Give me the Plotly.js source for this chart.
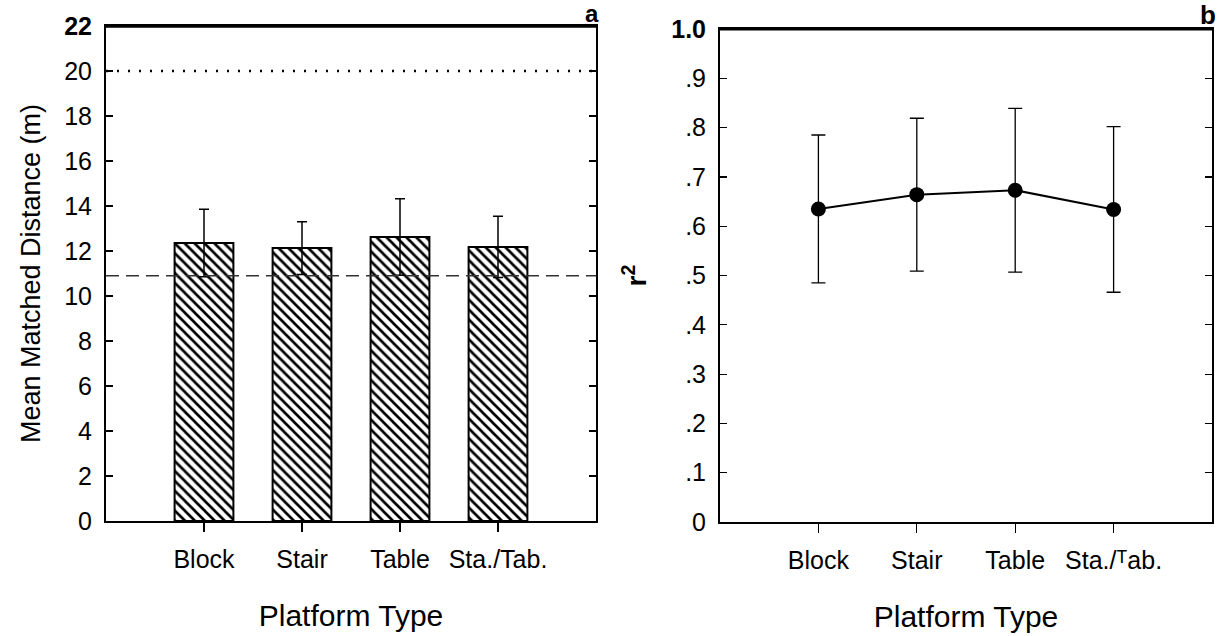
<!DOCTYPE html>
<html>
<head>
<meta charset="utf-8">
<script src="https://cdn.plot.ly/plotly-3.0.1.min.js"></script>
<style>html,body{margin:0;padding:0;background:#fff;}#chart{width:1224px;height:636px;}</style>
</head>
<body>
<div id="chart"></div>
<script>
// ---- data ----
var categories = ["Block", "Stair", "Table", "Sta./Tab."];
var categoriesB = ["Block", "Stair", "Table", "Sta./\u1d40ab."];
var meanDistance = [12.36, 12.13, 12.62, 12.18];
var distanceError = [1.5, 1.17, 1.7, 1.36];
var referenceDotted = 20;
var referenceDashed = 10.9;
var rSquared = [0.635, 0.664, 0.673, 0.634];
var rSquaredError = [0.15, 0.155, 0.166, 0.168];
var yTicksA = [0, 2, 4, 6, 8, 10, 12, 14, 16, 18, 20, 22];
var yTickTextA = ["0", "2", "4", "6", "8", "10", "12", "14", "16", "18", "20", "<b>22</b>"];
var yTicksB = [0, 0.1, 0.2, 0.3, 0.4, 0.5, 0.6, 0.7, 0.8, 0.9, 1.0];
var yTickTextB = ["0", ".1", ".2", ".3", ".4", ".5", ".6", ".7", ".8", ".9", "<b>1.0</b>"];

var xIdx = categories.map(function (c, i) { return i; });
var FONT = "Liberation Sans, Arial, Helvetica, sans-serif";

var traces = [
  {
    type: "bar",
    x: xIdx,
    y: meanDistance,
    width: 0.6,
    xaxis: "x", yaxis: "y",
    marker: {
      color: "white",
      line: { color: "black", width: 2 },
      pattern: { shape: "\\", fgcolor: "black", bgcolor: "white", size: 7, solidity: 0.38, fillmode: "replace" }
    },
    error_y: { type: "data", array: distanceError, visible: true, color: "black", thickness: 1.5, width: 5 },
    hoverinfo: "skip",
    showlegend: false
  },
  {
    type: "scatter",
    mode: "lines+markers",
    x: xIdx,
    y: rSquared,
    xaxis: "x2", yaxis: "y2",
    line: { color: "black", width: 2 },
    marker: { color: "black", size: 15 },
    error_y: { type: "data", array: rSquaredError, visible: true, color: "black", thickness: 1.3, width: 7 },
    hoverinfo: "skip",
    showlegend: false
  }
];

var axisCommonX = {
  range: [-1, 4],
  showgrid: false, zeroline: false,
  showline: true, linecolor: "black", linewidth: 2, mirror: true,
  ticks: "outside", ticklen: 9, tickwidth: 1.2, tickcolor: "black",
  ticklabelstandoff: 6,
  tickfont: { family: FONT, size: 25, color: "black" },
  fixedrange: true
};
var axisCommonY = {
  showgrid: false, zeroline: false,
  showline: true, linecolor: "black", linewidth: 2, mirror: "ticks",
  ticks: "inside", ticklen: 7, tickwidth: 1.2, tickcolor: "black",
  ticklabelstandoff: 7,
  tickfont: { family: FONT, size: 25, color: "black" },
  fixedrange: true
};

var layout = {
  width: 1224, height: 636,
  margin: { l: 0, r: 0, t: 0, b: 0 },
  paper_bgcolor: "white", plot_bgcolor: "white",
  font: { family: FONT, color: "black" },
  xaxis: Object.assign({}, axisCommonX, {
    domain: [106 / 1224, 596 / 1224],
    anchor: "y",
    tickvals: xIdx, ticktext: categories,
    title: { text: "Platform Type", font: { family: FONT, size: 30, color: "black" }, standoff: 33 }
  }),
  yaxis: Object.assign({}, axisCommonY, {
    domain: [1 - 521 / 636, 1 - 26 / 636],
    anchor: "x",
    range: [0, 22],
    tickvals: yTicksA, ticktext: yTickTextA,
    title: { text: "Mean Matched Distance (m)", font: { family: FONT, size: 27, color: "black" }, standoff: 16 }
  }),
  xaxis2: Object.assign({}, axisCommonX, {
    domain: [720 / 1224, 1212 / 1224],
    anchor: "y2",
    tickvals: xIdx, ticktext: categoriesB,
    title: { text: "Platform Type", font: { family: FONT, size: 30, color: "black" }, standoff: 33 }
  }),
  yaxis2: Object.assign({}, axisCommonY, {
    domain: [1 - 522 / 636, 1 - 29 / 636],
    anchor: "x2",
    range: [0, 1.0],
    tickvals: yTicksB, ticktext: yTickTextB,
    title: { text: "<b>r<sup>2</sup></b>", font: { family: FONT, size: 28, color: "black" }, standoff: 16 }
  }),
  shapes: [
    { type: "line", xref: "x domain", yref: "paper", x0: 0, x1: 1, y0: 1 - 26 / 636, y1: 1 - 26 / 636,
      line: { color: "black", width: 3.5 } },
    { type: "line", xref: "x2 domain", yref: "paper", x0: 0, x1: 1, y0: 1 - 29 / 636, y1: 1 - 29 / 636,
      line: { color: "black", width: 3 } },
    { type: "line", xref: "x domain", yref: "y", x0: 0, x1: 1, y0: referenceDotted, y1: referenceDotted,
      line: { color: "black", width: 2.5, dash: "2px,9px" } },
    { type: "line", xref: "x domain", yref: "y", x0: 0, x1: 1, y0: referenceDashed, y1: referenceDashed,
      line: { color: "#333", width: 1.5, dash: "13px,7px" } }
  ],
  annotations: [
    { text: "<b>a</b>", xref: "paper", yref: "paper", x: 592 / 1224, y: 1 - 14 / 636,
      showarrow: false, font: { family: FONT, size: 24, color: "black" }, xanchor: "center", yanchor: "middle" },
    { text: "<b>b</b>", xref: "paper", yref: "paper", x: 1208 / 1224, y: 1 - 15 / 636,
      showarrow: false, font: { family: FONT, size: 26, color: "black" }, xanchor: "center", yanchor: "middle" }
  ]
};

Plotly.newPlot("chart", traces, layout, { staticPlot: true, displayModeBar: false });
</script>
</body>
</html>
